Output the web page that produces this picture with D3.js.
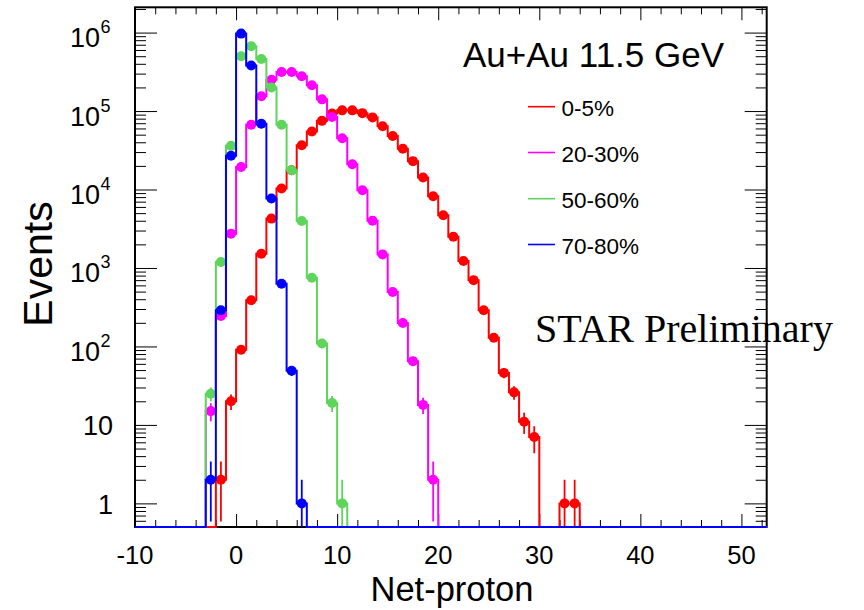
<!DOCTYPE html>
<html><head><meta charset="utf-8">
<script src="https://cdn.jsdelivr.net/npm/d3@7"></script>
<style>body{margin:0;background:#fff}svg{display:block}</style>
</head><body>
<svg id="c" width="864" height="610"></svg>
<script>
// ---------- data ----------
const seriesNames  = ["0-5%", "20-30%", "50-60%", "70-80%"];
const seriesColors = ["#ff0000", "#ff00ff", "#5dd45a", "#0000ff"];
// left edge of the first listed bin (bins are [k, k+1])
const seriesStart  = [-2, -3, -3, -3];
const central0_5   = [2, 20, 91, 387, 1520, 4260, 10300, 17600, 36600, 55000, 75000, 93000,
                      102000, 102000, 94000, 83000, 64000, 48000, 33000, 23000, 14200, 8200,
                      4700, 2500, 1230, 700, 289, 129, 46, 26, 11, 7, 0, 0, 1, 1];
const cent20_30    = [15, 245, 2740, 19400, 67000, 154000, 250000, 315000, 315000, 277000,
                      213000, 141000, 84000, 45000, 21000, 9800, 4000, 1490, 494, 199, 65, 18, 2];
const cent50_60    = [25, 1190, 36000, 500000, 670000, 460000, 200000, 67000, 17600, 3970, 750, 109, 19, 1];
const cent70_80    = [2, 290, 27000, 970000, 380000, 69000, 7700, 630, 49, 1];
const seriesValues = [central0_5, cent20_30, cent50_60, cent70_80];

const xTickValues  = [-10, 0, 10, 20, 30, 40, 50];
const yTickValues  = [1, 10, 100, 1e3, 1e4, 1e5, 1e6];
const yTickBase    = ["1", "10", "10", "10", "10", "10", "10"];
const yTickExp     = ["", "", "2", "3", "4", "5", "6"];

const titleText  = "Au+Au 11.5 GeV";
const xLabelText = "Net-proton";
const yLabelText = "Events";
const starText   = "STAR Preliminary";

// ---------- layout ----------
const L = 135, R = 766.7, T = 7.3, B = 527;
const svg = d3.select("#c");
const sans = "'Liberation Sans', Arial, Helvetica, sans-serif";

const x = d3.scaleLinear().domain([-10, 52.5]).range([L, R]);
const y = d3.scaleLog().domain([0.5, 2.1e6]).range([B, T]);
const yv = v => (v > 0 ? Math.max(T, Math.min(B, y(v))) : B);

svg.append("defs").append("clipPath").attr("id", "clip")
  .append("rect").attr("x", L).attr("y", T).attr("width", R - L).attr("height", B - T + 1.5);

// ---------- axes (ticks inside, ROOT style) ----------
const xMinor = d3.range(-8, 53, 2).filter(v => xTickValues.indexOf(v) < 0);
const yMinor = [];
for (let k = -1; k <= 6; k++) for (let m = 2; m <= 9; m++) {
  const v = m * Math.pow(10, k);
  if (v >= 0.5 && v <= 2.1e6) yMinor.push(v);
}
function styleAxis(g) {
  g.select(".domain").remove();
  g.selectAll("text").remove();
  g.selectAll("line").attr("stroke", "#000").attr("stroke-width", 1);
}
svg.append("g").attr("transform", `translate(0,${B})`)
  .call(d3.axisBottom(x).tickValues(xTickValues).tickSize(-13)).call(styleAxis);
svg.append("g").attr("transform", `translate(0,${B})`)
  .call(d3.axisBottom(x).tickValues(xMinor).tickSize(-7)).call(styleAxis);
svg.append("g").attr("transform", `translate(0,${T})`)
  .call(d3.axisTop(x).tickValues(xTickValues).tickSize(-13)).call(styleAxis);
svg.append("g").attr("transform", `translate(0,${T})`)
  .call(d3.axisTop(x).tickValues(xMinor).tickSize(-7)).call(styleAxis);
svg.append("g").attr("transform", `translate(${L},0)`)
  .call(d3.axisLeft(y).tickValues(yTickValues).tickSize(-22)).call(styleAxis);
svg.append("g").attr("transform", `translate(${L},0)`)
  .call(d3.axisLeft(y).tickValues(yMinor).tickSize(-11)).call(styleAxis);
svg.append("g").attr("transform", `translate(${R},0)`)
  .call(d3.axisRight(y).tickValues(yTickValues).tickSize(-22)).call(styleAxis);
svg.append("g").attr("transform", `translate(${R},0)`)
  .call(d3.axisRight(y).tickValues(yMinor).tickSize(-11)).call(styleAxis);

// frame
svg.append("rect").attr("x", L).attr("y", T).attr("width", R - L).attr("height", B - T)
  .attr("fill", "none").attr("stroke", "#000").attr("stroke-width", 2);

// ---------- histograms (drawn over the frame, like ROOT) ----------
const plot = svg.append("g").attr("clip-path", "url(#clip)");
seriesValues.forEach((vals, si) => {
  const s = seriesStart[si];
  const pts = [[x.domain()[0], B], [s, B]];
  vals.forEach((v, i) => { pts.push([s + i, v]); pts.push([s + i + 1, v]); });
  const end = s + vals.length;
  pts.push([end, B]);
  pts.push([x.domain()[1] + 1, B]);
  const path = d3.path();
  pts.forEach((p, i) => {
    const px = x(p[0]);
    const py = (i === 0 || i === 1 || i >= pts.length - 2) ? B : yv(p[1]);
    if (i === 0) path.moveTo(px, py); else path.lineTo(px, py);
  });
  const g = plot.append("g");
  g.append("path").attr("d", path.toString()).attr("fill", "none")
    .attr("stroke", seriesColors[si]).attr("stroke-width", 2);
  const data = vals.map((v, i) => ({ c: s + i + 0.5, v })).filter(d => d.v > 0);
  g.selectAll("line.err").data(data).enter().append("line")
    .attr("x1", d => x(d.c)).attr("x2", d => x(d.c))
    .attr("y1", d => yv(d.v - Math.sqrt(d.v)))
    .attr("y2", d => yv(d.v + Math.sqrt(d.v)))
    .attr("stroke", seriesColors[si]).attr("stroke-width", 1.8);
  g.selectAll("circle").data(data).enter().append("circle")
    .attr("cx", d => x(d.c)).attr("cy", d => yv(d.v)).attr("r", 5)
    .attr("fill", seriesColors[si]);
});

// x tick labels
svg.append("g").selectAll("text").data(xTickValues).enter().append("text")
  .attr("x", d => x(d)).attr("y", 563.5).attr("text-anchor", "middle")
  .attr("font-family", sans).attr("font-size", 25.5).attr("fill", "#000")
  .text(d => d);

// y tick labels
yTickValues.forEach((v, i) => {
  const ty = y(v);
  if (yTickExp[i] === "") {
    svg.append("text").attr("x", 113).attr("y", ty + 10.5).attr("text-anchor", "end")
      .attr("font-family", sans).attr("font-size", 27).attr("fill", "#000").text(yTickBase[i]);
  } else {
    svg.append("text").attr("x", 100).attr("y", ty + 14.5).attr("text-anchor", "end")
      .attr("font-family", sans).attr("font-size", 27).attr("fill", "#000").text(yTickBase[i]);
    svg.append("text").attr("x", 100.5).attr("y", ty + 0.5).attr("text-anchor", "start")
      .attr("font-family", sans).attr("font-size", 18).attr("fill", "#000").text(yTickExp[i]);
  }
});

// axis titles
svg.append("text").attr("x", 452).attr("y", 601).attr("text-anchor", "middle")
  .attr("font-family", sans).attr("font-size", 34.5).attr("fill", "#000").text(xLabelText);
svg.append("text").attr("transform", "translate(51.5,264) rotate(-90)")
  .attr("text-anchor", "middle").attr("font-family", sans).attr("font-size", 41)
  .attr("fill", "#000").text(yLabelText);

// title
svg.append("text").attr("x", 463).attr("y", 66.7).attr("font-family", sans)
  .attr("font-size", 35).attr("fill", "#000").text(titleText);

// legend
const legY = [106.7, 152.5, 198.7, 244.5];
seriesNames.forEach((n, i) => {
  svg.append("line").attr("x1", 528).attr("x2", 555).attr("y1", legY[i]).attr("y2", legY[i])
    .attr("stroke", seriesColors[i]).attr("stroke-width", 1.6);
  svg.append("text").attr("x", 561.5).attr("y", legY[i] + 9.5).attr("font-family", sans)
    .attr("font-size", 22.5).attr("fill", "#000").text(n);
});

// STAR Preliminary
svg.append("text").attr("x", 535).attr("y", 341.5)
  .attr("font-family", "'Liberation Serif', 'Times New Roman', serif")
  .attr("font-size", 40).attr("fill", "#000").text(starText);
</script>
</body></html>
